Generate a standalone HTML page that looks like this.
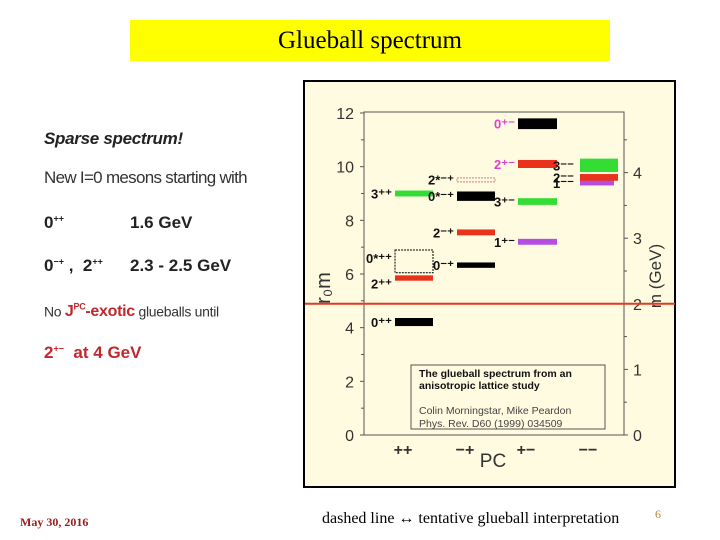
<!DOCTYPE html>
<html><head><meta charset="utf-8"><style>
body{margin:0;width:720px;height:540px;background:#fff;position:relative;overflow:hidden;font-family:"Liberation Sans",sans-serif}
.abs{position:absolute;white-space:nowrap}
</style></head><body>
<div class="abs" style="left:130px;top:20px;width:480px;height:41px;background:#ffff00;text-align:center;line-height:41px;font-family:'Liberation Serif',serif;font-size:25px;color:#000">Glueball spectrum</div>

<div class="abs" style="left:44px;top:129px;font-size:17px;font-weight:bold;font-style:italic;color:#222;letter-spacing:-0.3px">Sparse spectrum!</div>
<div class="abs" style="left:44px;top:168px;font-size:17px;color:#333;letter-spacing:-0.7px">New I=0 mesons starting with</div>
<div class="abs" style="left:44px;top:213px;font-size:17px;font-weight:bold;color:#222">0<sup style="font-size:9px">++</sup><span style="position:absolute;left:86px">1.6 GeV</span></div>
<div class="abs" style="left:44px;top:256px;font-size:17px;font-weight:bold;color:#222">0<sup style="font-size:9px">−+</sup> ,&nbsp; 2<sup style="font-size:9px">++</sup><span style="position:absolute;left:86px">2.3 - 2.5 GeV</span></div>
<div class="abs" style="left:44px;top:302px;font-size:14px;color:#333;letter-spacing:-0.3px">No <b style="color:#c0282d;font-size:16px">J<sup style="font-size:9px">PC</sup>-exotic</b> glueballs until</div>
<div class="abs" style="left:44px;top:343px;font-size:17px;font-weight:bold;color:#c0282d">2<sup style="font-size:9px">+−</sup>&nbsp; at 4 GeV</div>

<svg class="abs" style="left:0;top:0" width="720" height="540" id="chart"></svg>

<div class="abs" style="left:20px;top:515px;font-family:'Liberation Serif',serif;font-size:12px;font-weight:bold;color:#9b1b1b">May 30, 2016</div>
<div class="abs" style="left:322px;top:510px;font-family:'Liberation Serif',serif;font-size:16px;color:#000">dashed line ↔ tentative glueball interpretation</div>
<div class="abs" style="left:655px;top:507px;font-family:'Liberation Serif',serif;font-size:12px;color:#c08040">6</div>

<script>
const leftTicks=[0,2,4,6,8,10,12];
const rightTicks=[0,1,2,3,4];
const pcLabels=['++','−+','+−','−−'];
const stateNames=['0++','2++','3++','0*++','0-+','2-+','0*-+','2*-+','1+-','3+-','2+-','0+-','1--','2--','3--'];
const stateCol=[0,0,0,0,1,1,1,1,2,2,2,2,3,3,3];
const stateMass=[4.21,5.85,9.0,6.47,6.33,7.55,8.9,9.52,7.2,8.7,10.1,11.6,9.4,9.6,10.05];
const stateErr=[0.3,0.2,0.22,0.85,0.2,0.22,0.35,0.12,0.22,0.25,0.3,0.4,0.2,0.25,0.5];
const stateColor=['#000','#e8321c','#33dd33','none','#000','#e8321c','#000','none','#b44de0','#33dd33','#e8321c','#000','#b44de0','#e8321c','#33dd33'];
const stateLabel=['0⁺⁺','2⁺⁺','3⁺⁺','0*⁺⁺','0⁻⁺','2⁻⁺','0*⁻⁺','2*⁻⁺','1⁺⁻','3⁺⁻','2⁺⁻','0⁺⁻','1⁻⁻','2⁻⁻','3⁻⁻'];
const redLineValue=2.0; // GeV threshold

const NS='http://www.w3.org/2000/svg';
const svg=document.getElementById('chart');
const X0=364,X1=624,Y0=435,Y1=113;
const y=v=>Y0-(v/12)*(Y0-Y1);
const yG=g=>Y0-g*65.6;
const colX=[395,457,518,580],colW=[38,38,39,38];
function el(t,a,txt){const e=document.createElementNS(NS,t);for(const k in a)e.setAttribute(k,a[k]);if(txt!==undefined)e.textContent=txt;svg.appendChild(e);return e;}

let e=el('rect',{x:304,y:81,width:371,height:406,fill:'#fffbe0',stroke:'#000','stroke-width':2});

e=el('rect',{x:X0,y:Y1-1,width:X1-X0,height:Y0-Y1+1,fill:'none',stroke:'#555','stroke-width':1});


for(const t of leftTicks){
  e=el('text',{x:354,y:y(t)+6,'text-anchor':'end','font-size':16,fill:'#333'},String(t));
  
  el('line',{x1:X0-4,x2:X0,y1:y(t),y2:y(t),stroke:'#555'});
  if(t<12)el('line',{x1:X0-3,x2:X0,y1:y(t+1),y2:y(t+1),stroke:'#555'});
}
for(const g of rightTicks){
  e=el('text',{x:633,y:yG(g)+6,'font-size':16,fill:'#333'},String(g));
  
  el('line',{x1:X1,x2:X1+4,y1:yG(g),y2:yG(g),stroke:'#555'});
  if(g<4.5)el('line',{x1:X1,x2:X1+3,y1:yG(g+0.5),y2:yG(g+0.5),stroke:'#555'});
}
e=el('text',{transform:'translate(330,288) rotate(-90)','text-anchor':'middle','font-size':20,fill:'#333'},'r₀m');

e=el('text',{transform:'translate(661,276) rotate(-90)','text-anchor':'middle','font-size':17,fill:'#333'},'m  (GeV)');

e=el('text',{x:493,y:467,'text-anchor':'middle','font-size':19,fill:'#333'},'PC');

pcLabels.forEach((l,i)=>{
  e=el('text',{x:colX[i]+8,y:455,'text-anchor':'middle','font-size':16,'font-weight':'bold',fill:'#333'},l);
  
});

e=el('line',{x1:305,x2:675,y1:yG(redLineValue),y2:yG(redLineValue),stroke:'#e03a20','stroke-width':2});


stateNames.forEach((n,i)=>{
  const c=stateCol[i],m=stateMass[i],h=stateErr[i];
  const top=y(m+h/2),hh=Math.max(y(m-h/2)-top,4);
  let w=colW[c]; if(n==='1--')w-=4;
  const dashed=stateColor[i]==='none';
  e=el('rect',{x:colX[c],y:top,width:w,height:hh,fill:dashed?'none':stateColor[i],stroke:dashed?(n==='2*-+'?'#d08080':'#000'):'none','stroke-width':1,'stroke-dasharray':dashed?'2,1':''});
  
  
  const mag=(n==='2+-'||n==='0+-');
  let lx=colX[c]-3, ly=y(m)+5, anchor='end';
  if(c===3){lx=colX[3]-6;}
  if(n==='0*++')ly=y(6.6)+5;
  if(n==='2++')ly=y(5.65)+5;
  e=el('text',{x:lx,y:ly,'text-anchor':anchor,'font-size':13,'font-weight':'bold',fill:mag?'#e040d0':'#111'},stateLabel[i]);
  
  
});

e=el('rect',{x:411,y:365,width:194,height:64,fill:'#fffbe0',stroke:'#555'});

[['The glueball spectrum from an',377,'bold','#111'],['anisotropic lattice study',389,'bold','#111'],['Colin Morningstar, Mike Peardon',414,'normal','#444'],['Phys. Rev. D60 (1999) 034509',427,'normal','#444']].forEach(r=>{
  e=el('text',{x:419,y:r[1],'font-size':10.5,'font-weight':r[2],fill:r[3]},r[0]);
  
});
</script>
</body></html>
